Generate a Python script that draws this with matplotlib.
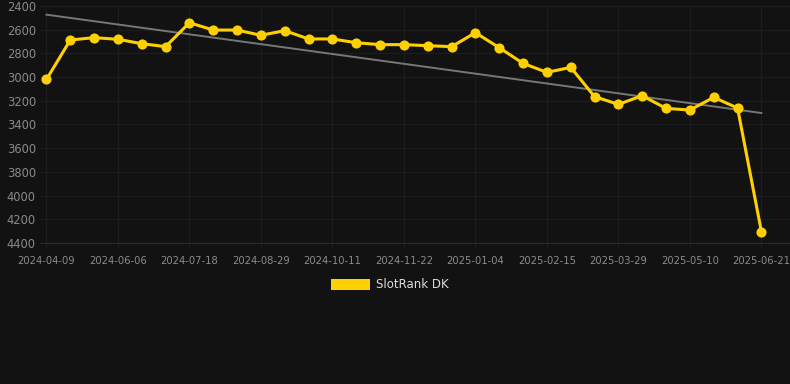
import matplotlib
matplotlib.use("Agg")
import matplotlib.pyplot as plt
from matplotlib.patches import Patch

# rank values per observation (lower = better, axis inverted)
rank = [3020, 2687, 2667, 2681, 2718, 2743, 2541, 2603, 2603, 2647,
        2608, 2678, 2678, 2710, 2726, 2726, 2735, 2743, 2625, 2752,
        2884, 2960, 2918, 3165, 3230, 3157, 3264, 3278, 3171, 3261,
        4304]
tick_labels = ["2024-04-09", "2024-06-06", "2024-07-18", "2024-08-29",
               "2024-10-11", "2024-11-22", "2025-01-04", "2025-02-15",
               "2025-03-29", "2025-05-10", "2025-06-21"]
trend = [2473, 3303]  # trend line at first and last observation
y_ticks = [2400, 2600, 2800, 3000, 3200, 3400, 3600, 3800, 4000, 4200, 4400]

BG = "#121212"
GOLD = "#FFD000"

fig = plt.figure(figsize=(7.9, 3.84), dpi=100, facecolor=BG)
ax = fig.add_axes([40 / 790, 1 - 243 / 384, 750 / 790, 237 / 384])
ax.set_facecolor(BG)

x = list(range(len(rank)))
ax.plot([x[0], x[-1]], trend, color="#777777", linewidth=1.4, zorder=2)
ax.plot(x, rank, color=GOLD, linewidth=2.2, marker="o", markersize=7.3,
        markeredgewidth=0, zorder=3)

ax.set_ylim(4400, 2400)
ax.set_yticks(y_ticks)
ax.set_xlim(-0.27, 31.2)
ax.set_xticks(x[::3])
ax.set_xticklabels(tick_labels)

ax.grid(True, color="#1d1d1d", linewidth=0.8)
ax.set_axisbelow(True)
for s in ["top", "right", "left"]:
    ax.spines[s].set_visible(False)
ax.spines["bottom"].set_color("#2c2c2c")
ax.tick_params(axis="y", length=0, pad=3, labelsize=8.3, labelcolor="#8a8a8a")
ax.tick_params(axis="x", length=4, color="#1d1d1d", pad=5, labelsize=7.2,
               labelcolor="#8a8a8a")

fig.legend(handles=[Patch(facecolor=GOLD, edgecolor="none")], labels=["SlotRank DK"],
           loc="center", bbox_to_anchor=(390 / 790, 1 - 285 / 384), frameon=False,
           fontsize=8.5, labelcolor="#dddddd", handlelength=3.3, handleheight=0.95,
           handletextpad=0.5)

fig.savefig("out.png", dpi=100, facecolor=BG)
